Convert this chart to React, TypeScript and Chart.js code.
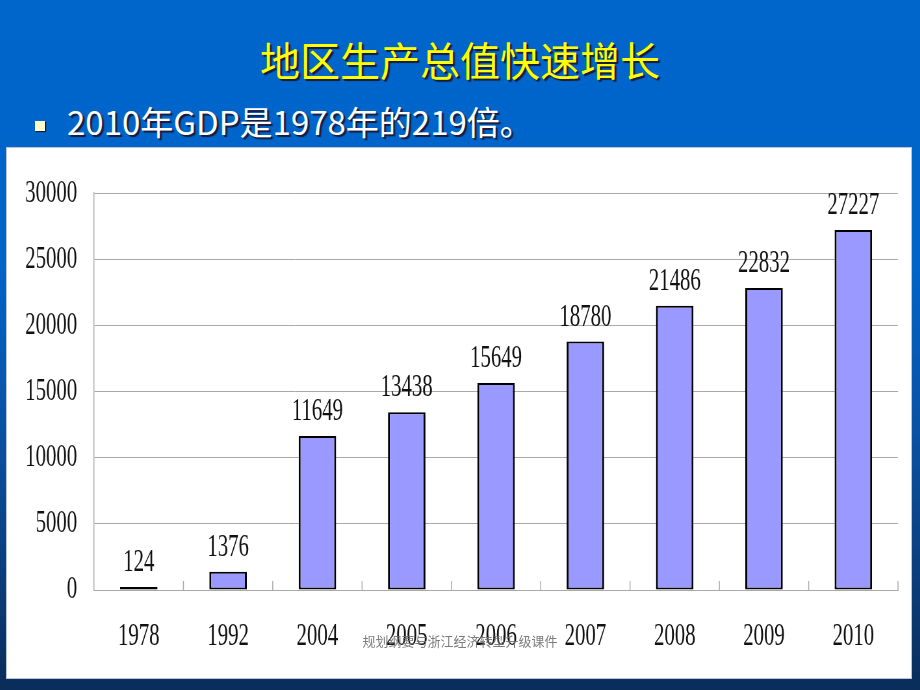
import React, { useEffect, useRef } from "react";
import { Chart, registerables } from "chart.js";

Chart.register(...registerables);

const categories = ["1978", "1992", "2004", "2005", "2006", "2007", "2008", "2009", "2010"];
const gdpValues = [124, 1376, 11649, 13438, 15649, 18780, 21486, 22832, 27227];
const yMin = 0;
const yMax = 30000;
const yStep = 5000;
const titleText = "地区生产总值快速增长";
const bulletText = "2010年GDP是1978年的219倍。";
const footerText = "规划纲要与浙江经济转型升级课件";

const BOX_W = 904;
const BOX_H = 530;
const CANVAS_W = 1391; // drawn wider, shown condensed (narrow serif look)
const SERIF = "'Liberation Serif', 'Times New Roman', serif";
const GRID = "#a9a9a9";

const valueLabels = {
  id: "valueLabels",
  afterDatasetsDraw(chart: any) {
    const ctx = chart.ctx;
    const meta = chart.getDatasetMeta(0);
    ctx.save();
    ctx.font = `32px ${SERIF}`;
    ctx.fillStyle = "#111";
    ctx.textAlign = "center";
    ctx.textBaseline = "alphabetic";
    meta.data.forEach((bar: any, i: number) => {
      ctx.fillText(String(gdpValues[i]), bar.x, bar.y - 16);
    });
    ctx.restore();
  },
};

const innerTicks = {
  id: "innerTicks",
  afterDraw(chart: any) {
    const ctx = chart.ctx;
    const xs = chart.scales.x;
    const ys = chart.scales.y;
    const base = ys.getPixelForValue(0);
    ctx.save();
    ctx.strokeStyle = GRID;
    ctx.lineWidth = 1.5;
    ctx.beginPath();
    for (let i = 1; i <= categories.length; i++) {
      const px =
        i < categories.length
          ? (xs.getPixelForValue(i - 1) + xs.getPixelForValue(i)) / 2
          : xs.right;
      ctx.moveTo(px, base);
      ctx.lineTo(px, base - 9);
    }
    ctx.stroke();
    ctx.restore();
  },
};

function GdpChart() {
  const ref = useRef<HTMLCanvasElement | null>(null);
  useEffect(() => {
    if (!ref.current) return;
    const chart = new Chart(ref.current, {
      type: "bar",
      data: {
        labels: categories,
        datasets: [
          {
            data: gdpValues,
            backgroundColor: "#9999ff",
            borderColor: "#000000",
            borderWidth: { top: 2, left: 3, right: 3, bottom: 2 } as any,
            borderSkipped: false,
            barPercentage: 0.42,
            categoryPercentage: 1,
            minBarLength: 3,
          },
        ],
      },
      options: {
        responsive: false,
        animation: false,
        devicePixelRatio: 1,
        layout: { padding: { top: 44, right: 20, left: 0, bottom: 0 } },
        plugins: {
          legend: { display: false },
          tooltip: { enabled: false },
        },
        scales: {
          x: {
            type: "category",
            offset: true,
            grid: { display: false, drawTicks: false },
            border: { display: true, color: GRID, width: 1 },
            ticks: {
              font: { family: SERIF, size: 32 },
              color: "#111",
              padding: 27,
              maxRotation: 0,
              autoSkip: false,
            },
            afterFit(scale: any) {
              scale.height = 88;
            },
          },
          y: {
            min: yMin,
            max: yMax,
            grid: { color: GRID, lineWidth: 1, drawTicks: false },
            border: { display: true, color: GRID, width: 1.5 },
            ticks: {
              stepSize: yStep,
              font: { family: SERIF, size: 32 },
              color: "#111",
              padding: 26,
              callback: (v: any) => String(v),
            },
            afterFit(scale: any) {
              scale.width = 134;
            },
          },
        },
      },
      plugins: [valueLabels, innerTicks],
    });
    return () => chart.destroy();
  }, []);
  return (
    <canvas
      ref={ref}
      width={CANVAS_W}
      height={BOX_H}
      style={{ width: `${BOX_W}px`, height: `${BOX_H}px`, display: "block" }}
    />
  );
}

export default function App() {
  return (
    <div
      style={{
        position: "fixed",
        left: 0,
        top: 0,
        width: 920,
        height: 690,
        overflow: "hidden",
        background:
          "linear-gradient(to bottom, #0066cc 0%, #0064c8 38%, #0a52a4 62%, #0b3f7e 82%, #0a2d5a 100%)",
        fontFamily: "'Noto Sans CJK SC', sans-serif",
      }}
    >
      <div
        style={{
          position: "absolute",
          left: 0,
          top: 37,
          width: 920,
          textAlign: "center",
          fontSize: 40,
          lineHeight: "44px",
          color: "#ffff00",
          textShadow: "2px 2px 1px #1a1a3a",
          whiteSpace: "nowrap",
        }}
      >
        {titleText}
      </div>
      <div
        style={{
          position: "absolute",
          left: 35,
          top: 121,
          width: 10,
          height: 10,
          background: "#ffffcc",
          boxShadow: "1px 1px 1px #1a1a3a",
        }}
      />
      <div
        style={{
          position: "absolute",
          left: 67,
          top: 102,
          fontSize: 33,
          lineHeight: "38px",
          color: "#ffffff",
          textShadow: "2px 2px 1px #1a1a3a",
          whiteSpace: "nowrap",
        }}
      >
        {bulletText}
      </div>
      <div
        style={{
          position: "absolute",
          left: 7,
          top: 148,
          width: BOX_W,
          height: BOX_H,
          background: "#ffffff",
          boxShadow: "0 0 0 1px #b8c4d8",
        }}
      >
        <GdpChart />
      </div>
      <div
        style={{
          position: "absolute",
          left: 0,
          top: 632,
          width: 920,
          textAlign: "center",
          fontSize: 13,
          lineHeight: "18px",
          color: "rgba(110,110,110,0.9)",
          whiteSpace: "nowrap",
        }}
      >
        {footerText}
      </div>
    </div>
  );
}
